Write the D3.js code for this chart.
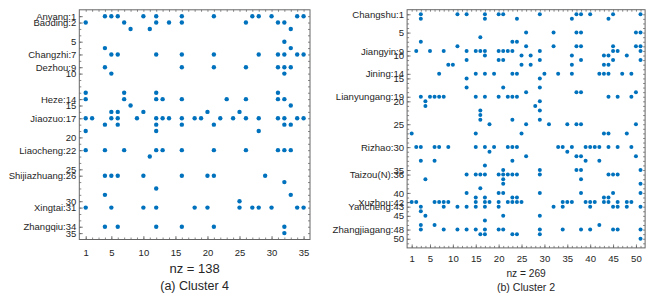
<!DOCTYPE html>
<html>
<head>
<meta charset="utf-8">
<script src="https://cdn.jsdelivr.net/npm/d3@7/dist/d3.min.js"></script>
<style>
  body { margin: 0; background: #fff; }
  svg text { font-family: "Liberation Sans", Arial, sans-serif; fill: #262626; }
</style>
</head>
<body>
<svg id="chart" width="660" height="296"></svg>
<script>
/* ── data: for every row, the columns that hold a nonzero ── */

// (a) Cluster 4, 35 x 35
const c4Rows = [
  [4,5,6,10,12,16,21,27,28,30,34,35],        // 1
  [1,7,12,14,16,26,31,32],
  [8,11,33],
  [],
  [32],                                       // 5
  [4,33],
  [5,6,12,16,21,28,31,32,34,35],
  [],
  [4,16,21,26,31,32,33],
  [5,32],                                     // 10
  [],
  [],
  [1,7,12,31],
  [1,7,12,13,16,23,26,31,32],
  [8,33],                                     // 15
  [5,6,10,20,25],
  [1,2,5,6,9,12,13,14,16,18,19,22,24,26,28,31,32,34,35],
  [4,6,12,16,21,32,33],
  [1,12,28],
  [],                                         // 20
  [],
  [1,4,7,12,13,16,21,26,31,32,33],
  [11],
  [],
  [],                                         // 25
  [4,5,6,10,16,20,21,29],
  [32],
  [12],
  [4,33],
  [25],                                       // 30
  [1,5,10,12,18,20,25,27,28,30,34,35],
  [],
  [],
  [4,6,12,16,21,32],
  [32]                                        // 35
];
const c4NameRows = [1,2,7,9,14,17,22,26,31,34];
const c4Names = ["Anyang","Baoding","Changzhi","Dezhou","Heze","Jiaozuo",
                 "Liaocheng","Shijiazhuang","Xingtai","Zhangqiu"];
const c4YTicks = [1,2,5,7,9,10,14,15,17,20,22,25,26,30,31,34,35];
const c4XTicks = [1,5,10,15,20,25,30,35];

// (b) Cluster 2, 51 x 51
const c2Rows = [
  [3,11,13,17,20,21,29,37,38,40,45,51],       // 1
  [3,17,24,36,44],
  [],
  [],
  [26,32,37,38,50,51],                         // 5
  [16],
  [3,23,24],
  [11,26,32,37,38,45,50,51],
  [2,5,8,13,15,16,17,20,21,22,23,29,45,46,51],
  [17,25,27,36,43,44,48],                      // 10
  [13,20,21,29,38,45,51],
  [9,10,25,27,36,43,44],
  [],
  [7,15,17,19,23,24,30,33,36,42,43,44,47,49],
  [13,29],                                     // 15
  [],
  [13,21,29],
  [26,37,38,50],
  [3,5,6,7,8,15,17,20,22,23,24,44,46,49],
  [4,29],                                      // 20
  [4,28],
  [16,29],
  [16],
  [16,23,29],
  [18,26,31,35,37,38,50],                      // 25
  [],
  [1,15,25,43,44,48],
  [],
  [],
  [2,3,6,7,9,15,17,19,22,23,24,33,34,36,39,40,41,42,44,46,49], // 30
  [18,35],
  [26,37,38,50],
  [3,6,23,39,42],
  [17],
  [21,29,37,38,51],                            // 35
  [13,15,16,17,20,21,22,23,24,29,44,45,46],
  [4,21,38],
  [21,51],
  [16],
  [13,20,21,29,38,45,51],                      // 40
  [15,17,23,24,43,44],
  [1,2,6,7,8,9,15,17,18,20,22,23,24,25,34,35,36,39,40,41,43,44,46,48,49],
  [3,8,11,13,15,17,20,32,34,40,45,46,48,51],
  [3],
  [4,21,29],                                   // 45
  [17],
  [3,6,42],
  [3,8,11,13,15,17,20,21,29,34,38,40,45,46,51],
  [16,17,23,24,29],
  [51],                                        // 50
  []
];
const c2NameRows = [1,9,14,19,30,36,42,43,48];
const c2Names = ["Changshu","Jiangyin","Jining","Lianyungang","Rizhao",
                 "Taizou(N)","Xuzhou","Yancheng","Zhangjiagang"];
const c2YTicks = [1,5,9,10,14,15,19,20,25,30,35,36,40,42,43,45,48,50];
const c2XTicks = [1,5,10,15,20,25,30,35,40,45,50];

const BLUE = "#0072BD";
const svg = d3.select("#chart");

/* ── one spy panel ── */
function drawSpy(rows, nameRows, names, yTicks, xTicks, box, st){
  const n = rows.length;
  const x = d3.scaleLinear().domain([0, n+1]).range([box.x0, box.x1]);
  const y = d3.scaleLinear().domain([0, n+1]).range([box.y0, box.y1]);
  const g = svg.append("g");

  const pts = rows.flatMap((cols,i)=>cols.map(c=>({r:i+1, c})));

  // minor ticks on all four sides, one per index
  const minor = d3.range(1, n+1);
  const sides = [
    [d3.axisLeft(y),   `translate(${box.x0},0)`],
    [d3.axisRight(y),  `translate(${box.x1},0)`],
    [d3.axisTop(x),    `translate(0,${box.y0})`],
    [d3.axisBottom(x), `translate(0,${box.y1})`]
  ];
  sides.forEach(([ax,tr])=>{
    const a = g.append("g").attr("transform",tr)
      .call(ax.tickValues(minor).tickSize(-2).tickSizeOuter(0).tickFormat(""));
    a.select(".domain").remove();
    a.selectAll("line").attr("stroke","#555").attr("stroke-width",0.7);
  });

  // labelled ticks
  const lab = r => {
    const k = nameRows.indexOf(r);
    return k >= 0 ? `${names[k]}:${r}` : `${r}`;
  };
  const yAx = g.append("g").attr("transform",`translate(${box.x0},0)`)
    .call(d3.axisLeft(y).tickValues(yTicks).tickSize(-3.5).tickSizeOuter(0)
            .tickPadding(3).tickFormat(lab));
  const xAx = g.append("g").attr("transform",`translate(0,${box.y1})`)
    .call(d3.axisBottom(x).tickValues(xTicks).tickSize(-3.5).tickSizeOuter(0)
            .tickPadding(st.xPad).tickFormat(d=>d));
  [yAx,xAx].forEach(a=>{
    a.select(".domain").remove();
    a.selectAll("line").attr("stroke","#555").attr("stroke-width",0.7);
    a.selectAll("text").attr("font-size",st.font).attr("fill","#262626")
     .style("font-family",'"Liberation Sans", Arial, sans-serif');
  });

  g.append("rect")
    .attr("x",box.x0).attr("y",box.y0)
    .attr("width",box.x1-box.x0).attr("height",box.y1-box.y0)
    .attr("fill","none").attr("stroke","#666").attr("stroke-width",1);

  g.selectAll("circle.nz").data(pts).enter().append("circle")
    .attr("class","nz")
    .attr("cx",d=>x(d.c)).attr("cy",d=>y(d.r))
    .attr("r",st.dot).attr("fill",BLUE);

  const cx = (box.x0+box.x1)/2;
  g.append("text").attr("x",cx).attr("y",st.nzY)
    .attr("text-anchor","middle").attr("font-size",st.nzFont)
    .text(`nz = ${pts.length}`);
  g.append("text").attr("x",cx).attr("y",st.capY)
    .attr("text-anchor","middle").attr("font-size",st.capFont)
    .text(st.caption);
}

drawSpy(c4Rows, c4NameRows, c4Names, c4YTicks, c4XTicks,
  {x0:79.3, x1:310, y0:9.8, y1:239.5},
  {dot:2.2, font:9.5, xPad:9.5, nzY:273, nzFont:13, capY:290, capFont:12.5,
   caption:"(a) Cluster 4"});

drawSpy(c2Rows, c2NameRows, c2Names, c2YTicks, c2XTicks,
  {x0:407.1, x1:645.1, y0:9.7, y1:247.9},
  {dot:2.0, font:9.6, xPad:7, nzY:277, nzFont:10.2, capY:290.5, capFont:10.6,
   caption:"(b) Cluster 2"});
</script>
</body>
</html>
